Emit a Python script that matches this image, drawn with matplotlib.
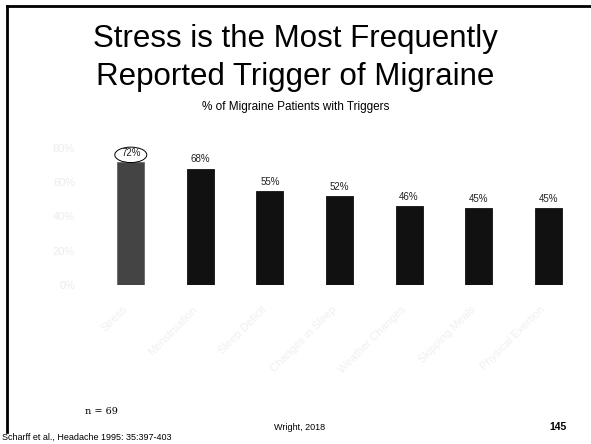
import matplotlib.pyplot as plt
import matplotlib.transforms as mtransforms
from matplotlib.lines import Line2D
from matplotlib.patches import Ellipse

# data
triggers = ["Stress", "Menstruation", "Sleep Deficit", "Changes in Sleep",
            "Weather Changes", "Skipping Meals", "Physical Exertion"]
percent = [72, 68, 55, 52, 46, 45, 45]
yticks = [0, 20, 40, 60, 80]

plt.rcParams["font.family"] = ["Liberation Sans", "DejaVu Sans"]

fig = plt.figure(figsize=(5.91, 4.44), dpi=100)
fig.patch.set_facecolor("white")

# slide frame (top and left lines)
fig.add_artist(Line2D([7 / 591, 1.0], [1 - 6 / 444, 1 - 6 / 444], color="black", lw=2,
                      transform=fig.transFigure))
fig.add_artist(Line2D([7 / 591, 7 / 591], [1 - 6 / 444, 1 - 432 / 444], color="black", lw=2,
                      transform=fig.transFigure))

fig.text(0.5, 1 - 39 / 444, "Stress is the Most Frequently", ha="center", va="center",
         fontsize=22.5, color="black")
fig.text(0.5, 1 - 77 / 444, "Reported Trigger of Migraine", ha="center", va="center",
         fontsize=22.5, color="black")
fig.text(0.5, 1 - 107 / 444, "% of Migraine Patients with Triggers", ha="center", va="center",
         fontsize=8.5, color="black")

ax = fig.add_axes([96 / 591, 1 - 285 / 444, 487 / 591, 137 / 444])
x = list(range(len(triggers)))
colors = ["#444444"] + ["#111111"] * (len(triggers) - 1)
ax.bar(x, percent, width=0.39, color=colors, edgecolor=["#666666"] + ["#111111"] * 6,
       linewidth=0.6)
ax.set_xlim(-0.5, len(triggers) - 0.5)
ax.set_ylim(0, 80)
ax.set_yticks(yticks)
ax.set_yticklabels([f"{t}%" for t in yticks], fontsize=8, color="#ececec")
ax.set_xticks(x)
ax.set_xticklabels(triggers, rotation=45, ha="right", rotation_mode="anchor",
                   fontsize=8, color="#f0f0f0")
ax.tick_params(axis="y", length=0, pad=15)
ax.tick_params(axis="x", length=0, pad=14)
shift = mtransforms.ScaledTranslation(-6 / 72, 0, fig.dpi_scale_trans)
for lbl in ax.get_xticklabels():
    lbl.set_transform(lbl.get_transform() + shift)
for s in ax.spines.values():
    s.set_visible(False)

for xi, v in zip(x, percent):
    ax.annotate(f"{v}%", xy=(xi, v), xytext=(0, 3), textcoords="offset points",
                ha="center", va="bottom", fontsize=7, color="#222222")

ax.add_patch(Ellipse((0, percent[0] + 4.0), 0.46, 9.0, facecolor="none",
                     edgecolor="black", linewidth=0.7, clip_on=False))

fig.text(85 / 591, 1 - 411 / 444, "n = 69", ha="left", va="center", fontsize=7,
         family="DejaVu Serif", color="black")
fig.text(300 / 591, 1 - 427 / 444, "Wright, 2018", ha="center", va="center", fontsize=6.5)
fig.text(558 / 591, 1 - 427 / 444, "145", ha="center", va="center", fontsize=7.5,
         fontweight="bold")
fig.text(2 / 591, 1 - 437 / 444, "Scharff et al., Headache 1995: 35:397-403", ha="left",
         va="center", fontsize=6.5)

fig.savefig("out.png", dpi=100)
